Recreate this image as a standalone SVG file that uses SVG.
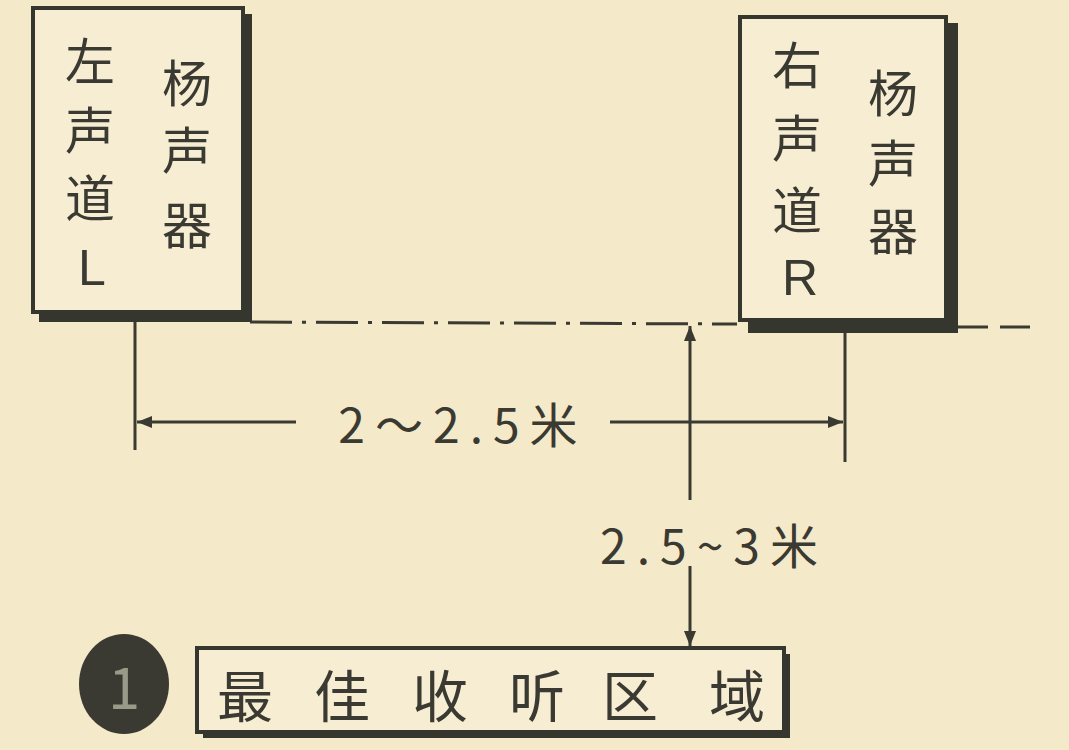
<svg xmlns="http://www.w3.org/2000/svg" width="1069" height="750" viewBox="0 0 1069 750">
<defs>
<style>
.bg{fill:#f4e9c9}
.box{fill:#f6edd2;stroke:#35362e;stroke-width:4}
.sh{fill:#35362e}
.ln{stroke:#3a3a32;stroke-width:3;fill:none}
.t{font-family:"Noto Sans CJK SC","Noto Sans",sans-serif;fill:#3a3a32;text-anchor:middle;dominant-baseline:central}
.c{font-size:50px}
.lr{font-family:"Liberation Sans",sans-serif;font-size:50px}
.d{font-size:48px;letter-spacing:10px}
</style>
<marker id="ah" viewBox="0 0 10 10" refX="10" refY="5" markerWidth="5" markerHeight="5" orient="auto-start-reverse">
<path d="M0,1 L10,5 L0,9 z" fill="#3a3a32"/>
</marker>
</defs>
<rect class="bg" x="0" y="0" width="1069" height="750"/>

<g id="connectors">
<path class="ln" d="M250,322 L737,324" stroke-dasharray="42,10,4,10"/>
<path class="ln" d="M958,327 L1040,327" stroke-dasharray="30,12"/>
<line class="ln" x1="135" y1="322" x2="135" y2="450"/>
<line class="ln" x1="845" y1="333" x2="845" y2="462"/>
<line class="ln" x1="137" y1="422" x2="296" y2="422" marker-start="url(#ah)"/>
<line class="ln" x1="610" y1="422" x2="843" y2="422" marker-end="url(#ah)"/>
<line class="ln" x1="690" y1="500" x2="690" y2="326" marker-end="url(#ah)"/>
<line class="ln" x1="690" y1="566" x2="690" y2="646" marker-end="url(#ah)"/>
</g>

<g id="left-speaker">
<rect class="sh" x="39" y="14" width="213" height="308"/>
<rect class="box" x="33" y="8" width="210" height="304"/>
<text class="t c" x="90" y="58">左</text>
<text class="t c" x="90" y="127">声</text>
<text class="t c" x="90" y="195">道</text>
<text class="t lr" x="92" y="268">L</text>
<text class="t c" x="187" y="80">杨</text>
<text class="t c" x="187" y="147">声</text>
<text class="t c" x="187" y="222">器</text>
</g>

<g id="right-speaker">
<rect class="sh" x="748" y="23" width="210" height="310"/>
<rect class="box" x="740" y="17" width="206" height="303"/>
<text class="t c" x="797" y="62">右</text>
<text class="t c" x="797" y="135">声</text>
<text class="t c" x="797" y="207">道</text>
<text class="t lr" x="800" y="278">R</text>
<text class="t c" x="893" y="90">杨</text>
<text class="t c" x="893" y="160">声</text>
<text class="t c" x="893" y="228">器</text>
</g>

<g id="label-width">
<text class="t d" x="463" y="422">2～2.5米</text>
</g>

<g id="label-depth">
<text class="t d" x="714" y="543">2.5~3米</text>
</g>

<g id="badge">
<ellipse cx="124" cy="684" rx="45" ry="50" fill="#3a3a32"/>
<text class="t" x="124" y="684" font-size="58" font-family="Liberation Serif" style="fill:#9a9a88">1</text>
</g>

<g id="listening-zone">
<rect class="sh" x="203" y="654" width="587" height="84"/>
<rect class="box" x="197" y="648" width="587" height="84"/>
<text class="t" x="245" y="692" font-size="56">最</text>
<text class="t" x="342" y="692" font-size="56">佳</text>
<text class="t" x="440" y="692" font-size="56">收</text>
<text class="t" x="537" y="692" font-size="56">听</text>
<text class="t" x="630" y="692" font-size="56">区</text>
<text class="t" x="737" y="692" font-size="56">域</text>
</g>
</svg>
